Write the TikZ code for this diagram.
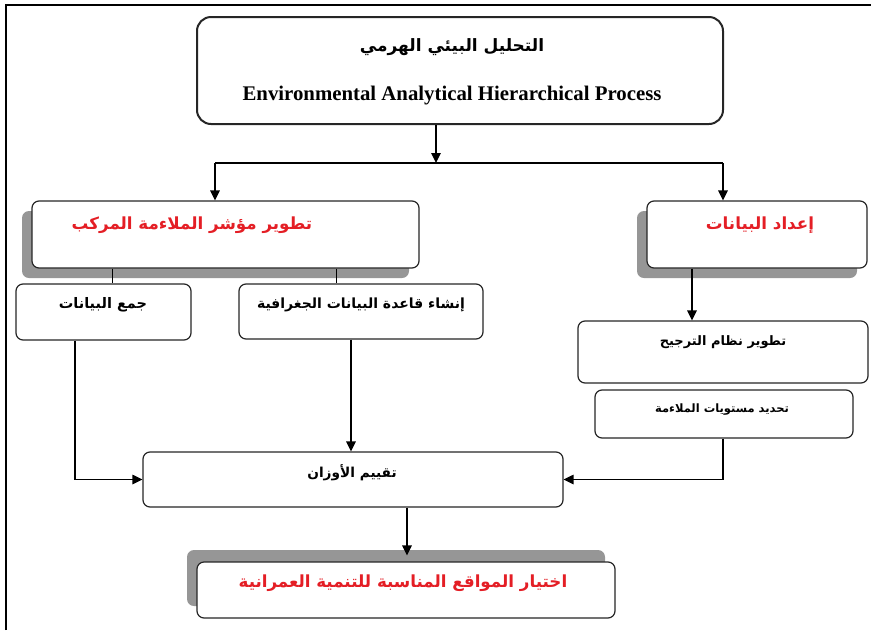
\documentclass[tikz,border=0pt]{standalone}
\usepackage{fontspec}
\setmainfont{Liberation Serif}
\newfontfamily\arabicfont[Script=Arabic]{DejaVu Sans}
\TeXXeTstate=1
\usepackage{tikz}
\usetikzlibrary{arrows.meta,calc,shadows}

\definecolor{shadowgray}{RGB}{150,150,150}
\definecolor{titlered}{RGB}{228,30,37}
\newcommand{\artext}[1]{\arabicfont\bfseries\beginR #1\endR}

\tikzset{
  box/.style={draw=black!85, line width=1.2pt, rounded corners=7pt, fill=white, inner sep=0pt},
  shadowbox/.style={box, drop shadow={shadow xshift=-10pt, shadow yshift=-10pt, fill=shadowgray, opacity=1}},
  redlabel/.style={text=titlered, font=\fontsize{16.7}{19}\selectfont},
  blacklabel/.style={font=\fontsize{14}{16}\selectfont}
}

\begin{document}
\begin{tikzpicture}[x=1pt, y=-1pt, line width=1.3pt, >={Triangle[length=10pt,width=9.5pt]}]
\useasboundingbox (0,0) rectangle (871,630);
\draw[line width=2pt] (6,630) -- (6,5) -- (871,5);

% boxes
\node[box, line width=2pt, rounded corners=14pt, minimum width=526pt, minimum height=107pt] (top) at (460,70.5) {};
\node[shadowbox, minimum width=387pt, minimum height=67pt] (index) at (225.5,234.5) {};
\node[shadowbox, minimum width=220pt, minimum height=67pt] (prep) at (757,234.5) {};
\node[box, minimum width=175pt, minimum height=56pt] (gather) at (103.5,312) {};
\node[box, minimum width=244pt, minimum height=55pt] (geo) at (361,311.5) {};
\node[box, minimum width=290pt, minimum height=62pt] (rank) at (723,352) {};
\node[box, minimum width=258pt, minimum height=48pt] (levels) at (724,414) {};
\node[box, minimum width=420pt, minimum height=55pt] (weights) at (353,479.5) {};
\node[box, drop shadow={shadow xshift=-10pt, shadow yshift=12pt, fill=shadowgray, opacity=1},
  minimum width=418pt, minimum height=56pt] (final) at (406,590) {};

% texts
\node[font=\fontsize{17}{20}\selectfont] (toptitle) at (452,47) {\artext{التحليل البيئي الهرمي}};
\node[font=\fontsize{20.8}{23}\selectfont\bfseries] (topsub) at (452,96) {Environmental Analytical Hierarchical Process};
\node[redlabel] (indextext) at (192,225) {\artext{تطوير مؤشر الملاءمة المركب}};
\node[redlabel] (preptext) at (760,225) {\artext{إعداد البيانات}};
\node[blacklabel, font=\fontsize{14.5}{16}\selectfont] (gathertext) at (103,305) {\artext{جمع البيانات}};
\node[blacklabel] (geotext) at (361,305) {\artext{إنشاء قاعدة البيانات الجغرافية}};
\node[blacklabel, font=\fontsize{13}{15}\selectfont] (ranktext) at (723,342) {\artext{تطوير نظام الترجيح}};
\node[blacklabel, font=\fontsize{11.5}{13}\selectfont] (levelstext) at (722,410) {\artext{تحديد مستويات الملاءمة}};
\node[blacklabel, font=\fontsize{13.7}{16}\selectfont] (weightstext) at (352,473) {\artext{تقييم الأوزان}};
\node[redlabel] (finaltext) at (403,583) {\artext{اختيار المواقع المناسبة للتنمية العمرانية}};

% connectors
\coordinate (split) at (436,163);
\coordinate (splitL) at (215,163);
\coordinate (splitR) at (723,163);
\coordinate (xa) at (112,0);
\coordinate (xb) at (336,0);
\coordinate (xc) at (75,0);
\coordinate (xd) at (351,0);
\coordinate (xe) at (692,0);
\coordinate (xf) at (723,0);
\coordinate (xg) at (407,0);

\draw[->] (top.south -| split) -- (split);
\draw[line width=2pt] (splitL) -- (splitR);
\draw[->] (splitL) -- (index.north -| splitL);
\draw[->] (splitR) -- (prep.north -| splitR);
\draw[line width=1pt] (index.south -| xa) -- (gather.north -| xa);
\draw[line width=1pt] (index.south -| xb) -- (geo.north -| xb);
\draw[->] (gather.south -| xc) |- (weights.west);
\draw[->] (geo.south -| xd) -- (weights.north -| xd);
\draw[->] (prep.south -| xe) -- (rank.north -| xe);
\draw[->] (levels.south -| xf) |- (weights.east);
\draw[->, shorten >=6pt] (weights.south -| xg) -- (final.north -| xg);
\end{tikzpicture}
\end{document}
